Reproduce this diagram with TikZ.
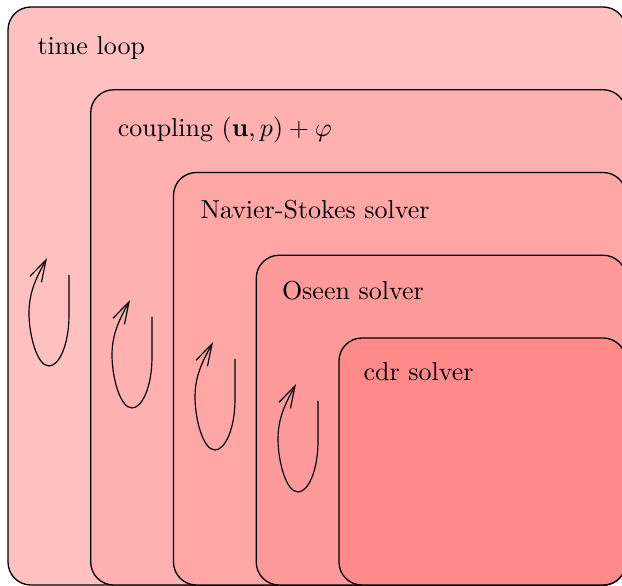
\documentclass[tikz,border=0pt]{standalone}
\usetikzlibrary{arrows.meta}
\definecolor{cA}{HTML}{FFC0C0}
\definecolor{cB}{HTML}{FFB1B1}
\definecolor{cC}{HTML}{FFA6A6}
\definecolor{cD}{HTML}{FF9A9A}
\definecolor{cE}{HTML}{FF8A8A}
\begin{document}
\begin{tikzpicture}[x=0.385pt,y=-0.385pt,
  boxshape/.style={draw=black, rounded corners=8.8pt, line width=0.5pt},
  lbl/.style={anchor=base west, inner sep=0pt},
  loopline/.style={-{Straight Barb[length=8.5pt,width=5pt]}, line width=0.45pt}]
\useasboundingbox (0,0) rectangle (622,586);
\begin{scope}
\clip (0,0) rectangle (622,586);
\foreach \i/\c in {0/cA,1/cB,2/cC,3/cD,4/cE}{
  \path[boxshape, fill=\c] ({8+82.75*\i},{7+82.75*\i}) rectangle (626,585);
}
\end{scope}
\node[lbl] (t1) at (37,55) {time loop};
\node[lbl] (t2) at (117.3,137) {coupling $(\mathbf{u},p)+\varphi$};
\node[lbl] (t3) at (200,218.5) {Navier-Stokes solver};
\node[lbl] (t4) at (281.5,300) {Oseen solver};
\node[lbl] (t5) at (363,381) {cdr solver};
\foreach \i in {0,1,2,3}{
  \coordinate (s\i) at ({69+83*\i},{275+42*\i});
  \draw[loopline] (s\i) -- ++(0,40) .. controls +(0,30) and +(10,0) .. ++(-20,51)
     .. controls +(-12,0) and +(0,22) .. ++(-20,-53)
     .. controls +(0,-23) and +(-9,17) .. ++(18,-55);
}
\end{tikzpicture}
\end{document}
